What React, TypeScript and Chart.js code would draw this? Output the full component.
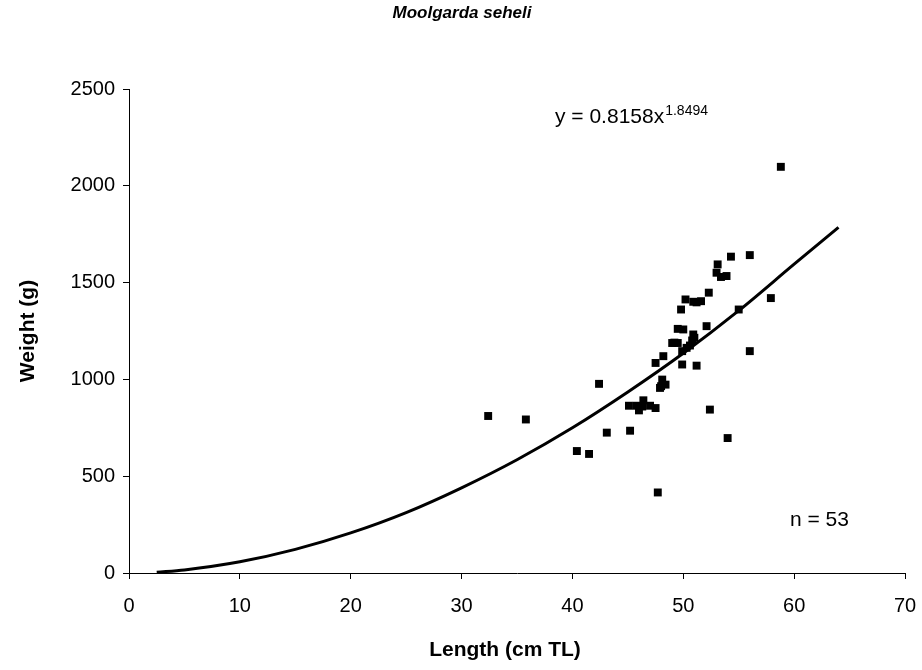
import React, { useEffect, useRef } from "react";
import { Chart, registerables } from "chart.js";

Chart.register(...registerables);

const titleText = "Moolgarda seheli";
const xAxisTitle = "Length (cm TL)";
const yAxisTitle = "Weight (g)";
const equationMain = "y = 0.8158x";
const equationExp = "1.8494";
const countLabel = "n = 53";

const lengthValues = [
  32.4, 35.8, 40.4, 41.5, 42.4, 43.1, 45.2, 45.1, 45.8, 46.0,
  46.4, 47.0, 47.5, 47.7, 47.9, 48.1, 48.4, 47.5, 48.2, 49.9,
  51.2, 52.4, 54.0, 49.0, 49.5, 50.8, 50.3, 49.9, 49.5, 50.0,
  50.9, 52.1, 49.8, 55.0, 50.2, 50.9, 51.6, 52.3, 53.0, 53.4,
  53.9, 53.1, 54.3, 56.0, 56.0, 57.9, 58.8, 51.2, 49.2, 50.6,
  51.0, 48.0, 46.3,
];
const weightValues = [
  811, 793, 630, 615, 977, 725, 735, 864, 864, 840,
  892, 864, 852, 416, 956, 999, 973, 1085, 1120, 1077,
  1071, 844, 697, 1188, 1188, 1201, 1163, 1146, 1261, 1258,
  1232, 1275, 1361, 1361, 1413, 1401, 1404, 1448, 1551, 1529,
  1534, 1594, 1634, 1642, 1146, 1420, 2098, 1398, 1190, 1175,
  1215, 965, 860,
];

const curveLengths = [2.5, 5, 10, 15, 20, 25, 30, 35, 40, 45, 50, 55, 60, 64];
const curveWeights = [4, 16, 58, 122, 207, 312, 440, 585, 750, 935, 1135, 1355, 1595, 1785];

const xTicks = [0, 10, 20, 30, 40, 50, 60, 70];
const yTicks = [0, 500, 1000, 1500, 2000, 2500];

const FONT = "'Liberation Sans', Arial, sans-serif";

export default function App() {
  const ref = useRef<HTMLCanvasElement | null>(null);

  useEffect(() => {
    const canvas = ref.current;
    if (!canvas) return;

    const textPlugin = {
      id: "texts",
      afterDraw(chart: any) {
        const ctx = chart.ctx;
        ctx.save();
        ctx.fillStyle = "#000";
        ctx.font = `italic bold 17px ${FONT}`;
        ctx.textAlign = "center";
        ctx.textBaseline = "middle";
        ctx.fillText(titleText, 462, 13);
        ctx.font = `bold 21px ${FONT}`;
        ctx.fillText(xAxisTitle, 505, 650);
        ctx.save();
        ctx.translate(28, 331);
        ctx.rotate(-Math.PI / 2);
        ctx.fillText(yAxisTitle, 0, 0);
        ctx.restore();
        ctx.textAlign = "left";
        ctx.textBaseline = "alphabetic";
        ctx.font = `21px ${FONT}`;
        ctx.fillText(equationMain, 555, 123);
        const w = ctx.measureText(equationMain).width;
        ctx.font = `14px ${FONT}`;
        ctx.fillText(equationExp, 555 + w + 1, 115);
        ctx.font = `21px ${FONT}`;
        ctx.textBaseline = "middle";
        ctx.fillText(countLabel, 790, 520);
        ctx.restore();
      },
    };

    const chart = new Chart(canvas, {
      type: "scatter",
      data: {
        datasets: [
          {
            label: "Observed",
            data: lengthValues.map((x, i) => ({ x, y: weightValues[i] })),
            pointStyle: "rect",
            pointRadius: 5.6,
            pointBorderWidth: 0,
            backgroundColor: "#000",
            borderColor: "#000",
          },
          {
            label: "Power fit",
            data: curveLengths.map((x, i) => ({ x, y: curveWeights[i] })),
            showLine: true,
            pointRadius: 0,
            borderColor: "#000",
            borderWidth: 3,
            cubicInterpolationMode: "monotone",
            fill: false,
          } as any,
        ],
      },
      options: {
        responsive: false,
        animation: false,
        devicePixelRatio: 1,
        layout: { padding: { top: 89, right: 17, left: 0, bottom: 0 } },
        plugins: {
          legend: { display: false },
          tooltip: { enabled: false },
          title: { display: false },
        },
        scales: {
          x: {
            type: "linear",
            min: 0,
            max: 70,
            afterBuildTicks: (s: any) => {
              s.ticks = xTicks.map((v) => ({ value: v }));
            },
            afterFit: (s: any) => {
              s.height = 97;
              s.paddingRight = 0;
              s.paddingLeft = 0;
            },
            ticks: {
              color: "#000",
              font: { family: FONT, size: 20 },
              padding: 15,
              maxRotation: 0,
              callback: (v: any) => String(v),
            },
            grid: {
              display: true,
              drawOnChartArea: false,
              drawTicks: true,
              tickLength: 6,
              color: "#000",
            },
            border: { display: true, color: "#000", width: 1 },
          },
          y: {
            type: "linear",
            min: 0,
            max: 2500,
            afterBuildTicks: (s: any) => {
              s.ticks = yTicks.map((v) => ({ value: v }));
            },
            afterFit: (s: any) => {
              s.width = 129;
              s.paddingTop = 0;
              s.paddingBottom = 0;
            },
            ticks: {
              color: "#000",
              font: { family: FONT, size: 20 },
              padding: 8,
              callback: (v: any) => String(v),
            },
            grid: {
              display: true,
              drawOnChartArea: false,
              drawTicks: true,
              tickLength: 6,
              color: "#000",
            },
            border: { display: true, color: "#000", width: 1 },
          },
        },
      },
      plugins: [textPlugin],
    });

    return () => chart.destroy();
  }, []);

  return (
    <div style={{ position: "fixed", left: 0, top: 0, width: 922, height: 670, background: "#fff" }}>
      <canvas ref={ref} width={922} height={670} style={{ display: "block" }} />
    </div>
  );
}
